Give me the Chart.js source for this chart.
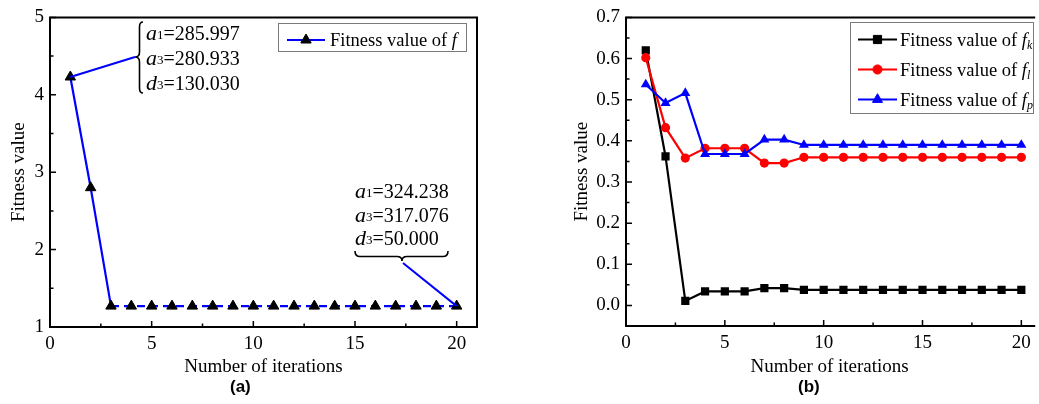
<!DOCTYPE html>
<html><head><meta charset="utf-8">
<script src="https://cdn.jsdelivr.net/npm/chart.js@4.4.1/dist/chart.umd.min.js"></script>
<style>
html,body{margin:0;padding:0;background:#fff;overflow:hidden;width:1039px;height:404px;}
#wa{position:absolute;left:0;top:0;width:520px;height:404px;}
#wb{position:absolute;left:520px;top:0;width:519px;height:404px;}
.cap{position:absolute;top:377px;line-height:20px;font:bold 17px "Liberation Sans",Arial,sans-serif;color:#000;}
</style></head><body>
<div id="wa"><canvas id="ca" width="520" height="404"></canvas></div>
<div id="wb"><canvas id="cb" width="519" height="404"></canvas></div>
<div class="cap" style="left:230px">(a)</div>
<div class="cap" style="left:798px">(b)</div>
<script>
// ---------- DATA ----------
const iterations = [1,2,3,4,5,6,7,8,9,10,11,12,13,14,15,16,17,18,19,20];
const fitnessF  = [4.23,2.80,1.27,1.27,1.27,1.27,1.27,1.27,1.27,1.27,1.27,1.27,1.27,1.27,1.27,1.27,1.27,1.27,1.27,1.27];
const fitnessFk = [0.620,0.362,0.011,0.034,0.034,0.034,0.042,0.042,0.038,0.038,0.038,0.038,0.038,0.038,0.038,0.038,0.038,0.038,0.038,0.038];
const fitnessFl = [0.602,0.432,0.358,0.382,0.382,0.382,0.346,0.346,0.360,0.360,0.360,0.360,0.360,0.360,0.360,0.360,0.360,0.360,0.360,0.360];
const fitnessFp = [0.537,0.492,0.516,0.368,0.368,0.368,0.403,0.403,0.390,0.390,0.390,0.390,0.390,0.390,0.390,0.390,0.390,0.390,0.390,0.390];
const xTicks  = [0,5,10,15,20];
const yTicksA = [1,2,3,4,5];
const yTicksB = [0.0,0.1,0.2,0.3,0.4,0.5,0.6,0.7];
const xTitle = 'Number of iterations';
const yTitle = 'Fitness value';
const legendMain = 'Fitness value of ';
const legendVar = 'f';
const legendSubsB = ['k','l','p'];
const annoVars = [['a','1'],['a','3'],['d','3']];
const annoStartVals = ['285.997','280.933','130.030'];
const annoEndVals = ['324.238','317.076','50.000'];

// ---------- HELPERS ----------
const SERIF = '"Liberation Serif","Times New Roman",serif';
Chart.defaults.color = '#000';
Chart.defaults.font.family = SERIF;

function pts(ys){ return iterations.map((x,i)=>({x:x, y:ys[i]})); }
function minors(arr, lo, hi){
  const step = arr[1]-arr[0], out=[];
  for(const v of arr){ const m=v+step/2; if(m>lo+1e-9 && m<hi-1e-9) out.push(m); }
  return out;
}
function drawRich(ctx, x, y, segs){
  let cx = x;
  for(const s of segs){ ctx.font = s.f; ctx.fillText(s.t, cx, y + (s.dy||0)); cx += ctx.measureText(s.t).width; }
  return cx;
}
function marker(ctx, style, r, x, y, color){
  ctx.save(); ctx.fillStyle=color; ctx.strokeStyle=color; ctx.lineWidth=1;
  Chart.helpers.drawPoint(ctx, {pointStyle:style, radius:r, rotation:0, borderWidth:1}, x, y);
  ctx.restore();
}

const frameTicks = {
  id:'frameTicks',
  afterDatasetsDraw(chart, args, o){
    const {ctx, chartArea:a, scales:{x, y}} = chart;
    ctx.save();
    ctx.strokeStyle='#000'; ctx.lineWidth=1.5;
    ctx.beginPath();
    for(const v of o.xMajor){ const p=x.getPixelForValue(v); ctx.moveTo(p,a.bottom); ctx.lineTo(p,a.bottom-6); }
    for(const v of minors(o.xMajor, x.min, x.max)){ const p=x.getPixelForValue(v); ctx.moveTo(p,a.bottom); ctx.lineTo(p,a.bottom-3.5); }
    for(const v of o.yMajor){ const p=y.getPixelForValue(v); ctx.moveTo(a.left,p); ctx.lineTo(a.left+6,p); }
    for(const v of minors(o.yMajor, y.min, y.max)){ const p=y.getPixelForValue(v); ctx.moveTo(a.left,p); ctx.lineTo(a.left+3.5,p); }
    ctx.stroke();
    ctx.lineWidth=2;
    ctx.beginPath();
    if(o.closed){
      ctx.rect(a.left, a.top, a.right-a.left, a.bottom-a.top);
    } else {
      ctx.moveTo(a.right+2, a.top); ctx.lineTo(a.left, a.top); ctx.lineTo(a.left, a.bottom); ctx.lineTo(a.right+2, a.bottom);
    }
    ctx.stroke();
    ctx.restore();
  }
};

const boxLegend = {
  id:'boxLegend',
  afterDraw(chart, args, o){
    const ctx = chart.ctx;
    ctx.save();
    ctx.strokeStyle='#7a7a7a'; ctx.lineWidth=1;
    ctx.strokeRect(o.box[0]+0.5, o.box[1]+0.5, o.box[2], o.box[3]);
    ctx.textBaseline='alphabetic'; ctx.fillStyle='#000';
    chart.data.datasets.forEach((ds,i)=>{
      const yy = o.y0 + i*o.dy;
      ctx.strokeStyle = ds.borderColor; ctx.lineWidth = ds.borderWidth;
      ctx.beginPath(); ctx.moveTo(o.x0, yy); ctx.lineTo(o.x1, yy); ctx.stroke();
      marker(ctx, ds.pointStyle, ds.pointRadius, (o.x0+o.x1)/2, yy, ds.pointBackgroundColor);
      ctx.fillStyle='#000';
      const segs = [{t:legendMain, f:'18.5px '+SERIF},{t:legendVar, f:'italic 18.5px '+SERIF}];
      if(o.subs) segs.push({t:o.subs[i], f:'italic 12px '+SERIF, dy:3.5});
      drawRich(ctx, o.tx, yy+6, segs);
    });
    ctx.restore();
  }
};

function braceV(ctx, xTip, xEnd, y0, y1, ym){
  const xm = (xTip+xEnd)/2 + 0.5, r = 5;
  ctx.beginPath();
  ctx.moveTo(xEnd, y0);
  ctx.quadraticCurveTo(xm, y0, xm, y0+r);
  ctx.lineTo(xm, ym-r);
  ctx.quadraticCurveTo(xm, ym, xTip, ym);
  ctx.quadraticCurveTo(xm, ym, xm, ym+r);
  ctx.lineTo(xm, y1-r);
  ctx.quadraticCurveTo(xm, y1, xEnd, y1);
  ctx.stroke();
}
function braceH(ctx, x0, x1, xm, yEnd, yTip){
  const ym = (yEnd+yTip)/2 + 0.5, r = 5;
  ctx.beginPath();
  ctx.moveTo(x0, yEnd);
  ctx.quadraticCurveTo(x0, ym, x0+r, ym);
  ctx.lineTo(xm-r, ym);
  ctx.quadraticCurveTo(xm, ym, xm, yTip);
  ctx.quadraticCurveTo(xm, ym, xm+r, ym);
  ctx.lineTo(x1-r, ym);
  ctx.quadraticCurveTo(x1, ym, x1, yEnd);
  ctx.stroke();
}

const annotations = {
  id:'annotations',
  afterDraw(chart){
    const ctx = chart.ctx;
    const pts0 = chart.getDatasetMeta(0).data;
    const pFirst = pts0[0], pLast = pts0[pts0.length-1];
    ctx.save();
    ctx.strokeStyle = '#0000ff'; ctx.lineWidth = 2;
    ctx.beginPath(); ctx.moveTo(pFirst.x, pFirst.y); ctx.lineTo(135, 57); ctx.stroke();
    ctx.beginPath(); ctx.moveTo(403, 263); ctx.lineTo(pLast.x, pLast.y); ctx.stroke();
    ctx.strokeStyle = '#000'; ctx.lineWidth = 1.6;
    braceV(ctx, 135, 143, 22, 93, 57);
    braceH(ctx, 355, 448, 402, 251, 261);
    ctx.fillStyle='#000'; ctx.textBaseline='alphabetic';
    const base1=[40,65,90], base2=[198,221.5,245];
    annoVars.forEach((v,i)=>{
      drawRich(ctx, 146, base1[i], [{t:v[0], f:'italic 22px '+SERIF},{t:v[1], f:'13px '+SERIF, dy:-1},{t:'='+annoStartVals[i], f:'20px '+SERIF}]);
      drawRich(ctx, 355, base2[i], [{t:v[0], f:'italic 22px '+SERIF},{t:v[1], f:'13px '+SERIF, dy:-1},{t:'='+annoEndVals[i], f:'20px '+SERIF}]);
    });
    ctx.restore();
  }
};

function scalesFor(cfg){
  return {
    x:{type:'linear', min:0, max:cfg.xMax,
      afterBuildTicks:s=>{ s.ticks = xTicks.map(v=>({value:v})); },
      afterFit:s=>{ s.height = cfg.xH; },
      grid:{display:false, drawTicks:false}, border:{display:false},
      ticks:{padding:6, color:'#000', font:{family:SERIF, size:19}, maxRotation:0},
      title:{display:true, text:xTitle, color:'#000', font:{family:SERIF, size:19}, padding:{top:0,bottom:25.6}}
    },
    y:{type:'linear', min:cfg.yMin, max:cfg.yMax,
      afterBuildTicks:s=>{ s.ticks = cfg.yTicks.map(v=>({value:v})); },
      afterFit:s=>{ s.width = cfg.yW; },
      grid:{display:false, drawTicks:false}, border:{display:false},
      ticks:{padding:6, color:'#000', font:{family:SERIF, size:19}, callback:cfg.fmt},
      title:{display:true, text:yTitle, color:'#000', font:{family:SERIF, size:19}, padding:{top:cfg.yTitlePad,bottom:0}}
    }
  };
}

// ---------- CHART (a) ----------
new Chart(document.getElementById('ca'), {
  type:'line',
  data:{datasets:[{
    label: legendMain+legendVar, data: pts(fitnessF),
    borderColor:'#0000ff', borderWidth:2.2, tension:0,
    pointStyle:'triangle', pointRadius:6, pointBackgroundColor:'#000', pointBorderColor:'#000', pointBorderWidth:1,
    segment:{borderDash: c => c.p0DataIndex >= 2 ? [8,5] : undefined}
  }]},
  options:{
    responsive:false, animation:false, events:[],
    layout:{padding:{left:0, top:13, right:43, bottom:0}},
    plugins:{legend:{display:false}, tooltip:{enabled:false},
      frameTicks:{xMajor:xTicks, yMajor:yTicksA, closed:true},
      boxLegend:{box:[278,23,188,28], x0:287, x1:325, y0:40, dy:0, tx:330}
    },
    scales: scalesFor({xMax:21, xH:77, yMin:1, yMax:5, yTicks:yTicksA, yW:50, yTitlePad:7.2, fmt:v=>String(v)})
  },
  plugins:[frameTicks, boxLegend, annotations]
});

// ---------- CHART (b) ----------
new Chart(document.getElementById('cb'), {
  type:'line',
  data:{datasets:[
    {label:'fk', data:pts(fitnessFk), order:3, borderColor:'#000000', borderWidth:2.2, tension:0,
     pointStyle:'rect', pointRadius:5.8, pointBackgroundColor:'#000000', pointBorderColor:'#000000', pointBorderWidth:0},
    {label:'fl', data:pts(fitnessFl), order:2, borderColor:'#ff0000', borderWidth:2.2, tension:0,
     pointStyle:'circle', pointRadius:4.6, pointBackgroundColor:'#ff0000', pointBorderColor:'#ff0000', pointBorderWidth:0},
    {label:'fp', data:pts(fitnessFp), order:1, borderColor:'#0000ff', borderWidth:2.2, tension:0,
     pointStyle:'triangle', pointRadius:5.8, pointBackgroundColor:'#0000ff', pointBorderColor:'#0000ff', pointBorderWidth:0}
  ]},
  options:{
    responsive:false, animation:false, events:[],
    layout:{padding:{left:0, top:12, right:0, bottom:0}},
    plugins:{legend:{display:false}, tooltip:{enabled:false},
      frameTicks:{xMajor:xTicks, yMajor:yTicksB, closed:false},
      boxLegend:{box:[330,22,183,91], x0:338, x1:377, y0:39.5, dy:30, tx:380, subs:legendSubsB}
    },
    scales: scalesFor({xMax:20.6, xH:78, yMin:-0.05, yMax:0.7, yTicks:yTicksB, yW:106, yTitlePad:50.3, fmt:v=>v.toFixed(1)})
  },
  plugins:[frameTicks, boxLegend]
});
</script>
</body></html>
